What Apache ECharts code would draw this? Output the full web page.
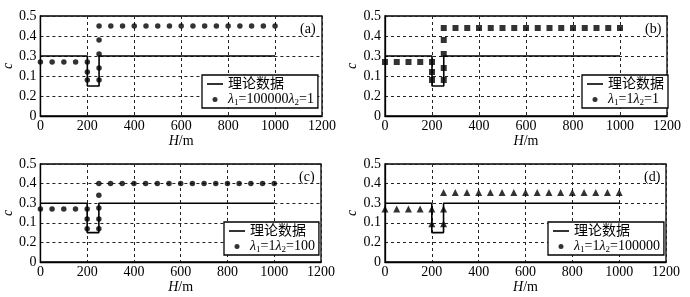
<!DOCTYPE html>
<html>
<head>
<meta charset="utf-8">
<script src="https://cdn.jsdelivr.net/npm/echarts@6/dist/echarts.min.js"></script>
<style>
  html, body { margin: 0; padding: 0; background: #fff; }
  #chart { width: 690px; height: 297px; }
</style>
</head>
<body>
<div id="chart"></div>
<script>
// y tick labels as printed in the figure (0.1 / 0.2 swapped in the original)
const yTickLabels = ["0", "0.2", "0.1", "0.3", "0.4", "0.5"];
const panelTags = ["(a)", "(b)", "(c)", "(d)"];
const seriesNames = ["λ1=100000λ2=1", "λ1=1λ2=1", "λ1=1λ2=100", "λ1=1λ2=100000"];
const markerShapes = ["circle", "rect", "circle", "triangle"];

// 理论数据 (step profile)
const theoryH = [0, 200, 200, 250, 250, 1000];
const theoryC = [0.3, 0.3, 0.15, 0.15, 0.3, 0.3];

// inverted results
const hA = [0, 50, 100, 150, 200, 200, 200, 250, 250, 250, 250, 250, 300, 350, 400, 450, 500, 550, 600, 650, 700, 750, 800, 850, 900, 950, 1000];
const cA = [0.27, 0.27, 0.27, 0.27, 0.27, 0.22, 0.18, 0.18, 0.24, 0.31, 0.38, 0.45, 0.45, 0.45, 0.45, 0.45, 0.45, 0.45, 0.45, 0.45, 0.45, 0.45, 0.45, 0.45, 0.45, 0.45, 0.45];

const hB = [0, 50, 100, 150, 200, 200, 200, 250, 250, 250, 250, 250, 300, 350, 400, 450, 500, 550, 600, 650, 700, 750, 800, 850, 900, 950, 1000];
const cB = [0.27, 0.27, 0.27, 0.27, 0.27, 0.22, 0.18, 0.18, 0.24, 0.31, 0.38, 0.44, 0.44, 0.44, 0.44, 0.44, 0.44, 0.44, 0.44, 0.44, 0.44, 0.44, 0.44, 0.44, 0.44, 0.44, 0.44];

const hC = [0, 50, 100, 150, 200, 200, 200, 250, 250, 250, 250, 250, 300, 350, 400, 450, 500, 550, 600, 650, 700, 750, 800, 850, 900, 950, 1000];
const cC = [0.27, 0.27, 0.27, 0.27, 0.27, 0.22, 0.17, 0.17, 0.22, 0.275, 0.34, 0.40, 0.40, 0.40, 0.40, 0.40, 0.40, 0.40, 0.40, 0.40, 0.40, 0.40, 0.40, 0.40, 0.40, 0.40, 0.40];

const hD = [0, 50, 100, 150, 200, 200, 250, 250, 250, 300, 350, 400, 450, 500, 550, 600, 650, 700, 750, 800, 850, 900, 950, 1000];
const cD = [0.27, 0.27, 0.27, 0.27, 0.27, 0.195, 0.195, 0.27, 0.355, 0.355, 0.355, 0.355, 0.355, 0.355, 0.355, 0.355, 0.355, 0.355, 0.355, 0.355, 0.355, 0.355, 0.355, 0.355];

const simH = [hA, hB, hC, hD];
const simC = [cA, cB, cC, cD];

const serif = "Liberation Serif";
const cjk = "Liberation Serif, Noto Sans CJK SC";

// panel boxes: [left, top, width, height]
const boxes = [
  [40, 16, 282, 100],
  [385, 16, 282, 100],
  [40, 164, 281, 98],
  [385, 164, 281, 98],
];
// legend anchor [left, top]
const legendPos = [
  [202, 75],
  [582, 75],
  [224, 222],
  [548, 222],
];

const zip = (a, b) => a.map((v, i) => [v, b[i]]);

const richText = {
  n: { fontFamily: cjk, fontSize: 14, color: "#000", lineHeight: 16 },
  l: { fontFamily: serif, fontSize: 14, fontStyle: "italic", color: "#000", lineHeight: 16 },
  s: { fontFamily: serif, fontSize: 9, color: "#000", padding: [6, 0, 0, 0], lineHeight: 16 },
};

function legendLabel(name) {
  if (name === "理论数据") return "{n|理论数据}";
  const m = name.match(/λ1=(\d+)λ2=(\d+)/);
  return "{l|λ}{s|1}{n|=" + m[1] + "}{l|λ}{s|2}{n|=" + m[2] + "}";
}

const symbolSizes = { circle: 5.5, rect: 6, triangle: 7 };

const grids = [], xAxes = [], yAxes = [], series = [], legends = [], titles = [];

boxes.forEach((b, i) => {
  grids.push({
    left: b[0], top: b[1], width: b[2], height: b[3],
    show: true, borderColor: "#000", borderWidth: 1.3, backgroundColor: "#fff",
  });
  xAxes.push({
    type: "value", gridIndex: i, min: 0, max: 1200, interval: 200,
    name: "{i|H}/m", nameLocation: "middle", nameGap: 15,
    nameTextStyle: {
      fontFamily: serif, fontSize: 14, color: "#000",
      rich: { i: { fontFamily: serif, fontSize: 14, fontStyle: "italic", color: "#000" } },
    },
    axisLine: { lineStyle: { color: "#000", width: 1.3 } },
    axisTick: { show: false },
    axisLabel: {
      fontFamily: serif, fontSize: 14, color: "#000", margin: 3,
      formatter: (v) => String(v),
    },
    splitLine: { lineStyle: { color: "#222", type: [3, 3], width: 1 } },
  });
  yAxes.push({
    type: "value", gridIndex: i, min: 0, max: 0.5, interval: 0.1,
    name: "c", nameLocation: "middle", nameGap: 25, nameRotate: 90,
    nameTextStyle: { fontFamily: serif, fontSize: 14, fontStyle: "italic", color: "#000" },
    axisLine: { lineStyle: { color: "#000", width: 1.3 } },
    axisTick: { show: false },
    axisLabel: {
      fontFamily: serif, fontSize: 14, color: "#000", margin: 4,
      formatter: (v) => yTickLabels[Math.round(v * 10)],
    },
    splitLine: { lineStyle: { color: "#222", type: [3, 3], width: 1 } },
  });
  series.push({
    name: "理论数据", type: "line", xAxisIndex: i, yAxisIndex: i,
    data: zip(theoryH, theoryC), symbol: "none",
    lineStyle: { color: "#000", width: 1.6 }, itemStyle: { color: "#000" },
    animation: false, z: 3,
  });
  series.push({
    name: seriesNames[i], type: "scatter", xAxisIndex: i, yAxisIndex: i,
    data: zip(simH[i], simC[i]), symbol: markerShapes[i],
    symbolSize: symbolSizes[markerShapes[i]],
    itemStyle: { color: "#000" }, clip: false, animation: false, z: 4,
  });
  legends.push({
    orient: "vertical", left: legendPos[i][0], top: legendPos[i][1],
    data: [
      { name: "理论数据", icon: "path://M0,0L16,0L16,1.6L0,1.6Z" },
      { name: seriesNames[i], icon: "circle" },
    ],
    itemWidth: 16, itemHeight: 5, itemGap: 1,
    padding: [2, 4, 1, 5],
    backgroundColor: "#fff", borderColor: "#000", borderWidth: 1.3, borderRadius: 0,
    selectedMode: false,
    formatter: legendLabel,
    textStyle: { fontFamily: cjk, fontSize: 14, color: "#000", rich: richText },
    z: 10,
  });
  titles.push({
    text: panelTags[i], left: b[0] + b[2] - 22, top: b[1] + 6, padding: 0,
    textStyle: { fontFamily: serif, fontSize: 14, fontWeight: "normal", color: "#000" },
  });
});

const chart = echarts.init(document.getElementById("chart"), null, { renderer: "canvas" });
chart.setOption({
  animation: false,
  backgroundColor: "#fff",
  title: titles,
  grid: grids,
  xAxis: xAxes,
  yAxis: yAxes,
  legend: legends,
  series: series,
});
</script>
</body>
</html>
